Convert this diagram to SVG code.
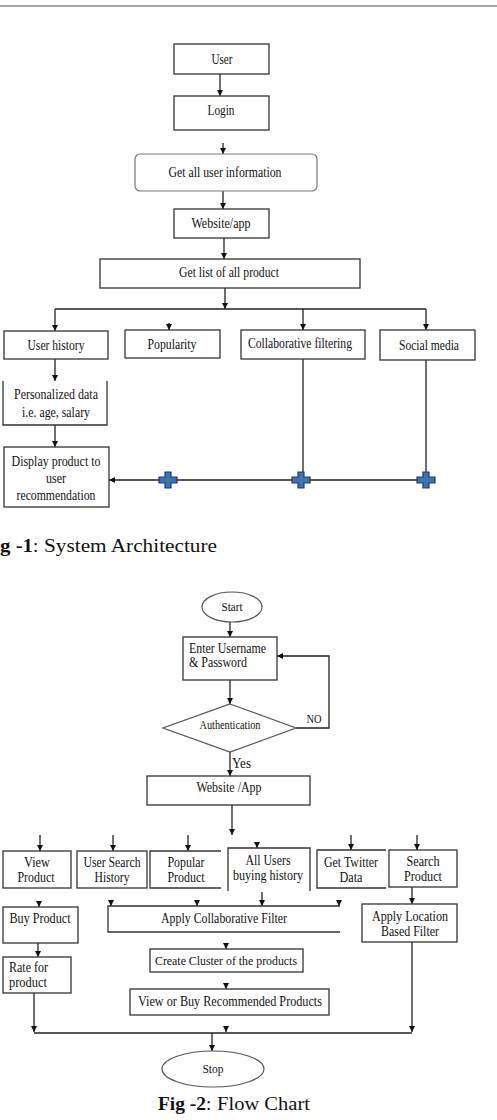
<svg xmlns="http://www.w3.org/2000/svg" width="497" height="1120" viewBox="0 0 497 1120">
<style>
.bx{fill:#fff;stroke:#333;stroke-width:1.3}
.op{fill:none;stroke:#333;stroke-width:1.3}
.t{font-family:"Liberation Serif","Times New Roman",serif;font-size:15px;fill:#111;text-anchor:middle}
.s{font-size:13px}
.l{text-anchor:start}
.ln{fill:none;stroke:#222;stroke-width:1.3}
.ar{marker-end:url(#ah)}
.pl{fill:#3f72b3;stroke:#1d3c66;stroke-width:1.2}
.cap{font-family:"Liberation Serif","Cambria",serif;font-size:19px;fill:#111}
</style>
<defs>
<marker id="ah" viewBox="0 0 10 10" refX="10" refY="5" markerWidth="6" markerHeight="6" markerUnits="userSpaceOnUse" orient="auto">
<path d="M0,0 L10,5 L0,10 z" fill="#111"/>
</marker>
<path id="plus" d="M-3,-8 H3 V-3 H9 V3 H3 V8 H-3 V3 H-9 V-3 H-3 z"/>
</defs>
<rect width="497" height="1120" fill="#fff"/>
<line x1="0" y1="6" x2="497" y2="6" stroke="#888" stroke-width="1.5"/>

<g id="connectors">
<line class="ln ar" x1="220" y1="74" x2="220" y2="96"/>
<line class="ln ar" x1="223" y1="143" x2="223" y2="154"/>
<line class="ln ar" x1="223" y1="191" x2="223" y2="209"/>
<line class="ln ar" x1="224" y1="238" x2="224" y2="259"/>
<line class="ln ar" x1="225" y1="288" x2="225" y2="309"/>
<line class="ln" x1="55" y1="309" x2="426" y2="309"/>
<line class="ln ar" x1="55" y1="309" x2="55" y2="331"/>
<line class="ln ar" x1="303" y1="309" x2="303" y2="330"/>
<line class="ln ar" x1="426" y1="309" x2="426" y2="330"/>
<line class="ln ar" x1="169" y1="323" x2="169" y2="330"/>
<line class="ln ar" x1="55" y1="359" x2="55" y2="381"/>
<line class="ln ar" x1="55" y1="425" x2="55" y2="447"/>
<line class="ln" x1="303" y1="359" x2="303" y2="480"/>
<line class="ln" x1="426" y1="360" x2="426" y2="480"/>
<line class="ln ar" x1="426" y1="480" x2="109" y2="480"/>
<use href="#plus" class="pl" x="168" y="480"/>
<use href="#plus" class="pl" x="301" y="480"/>
<use href="#plus" class="pl" x="426" y="480"/>

<line class="ln ar" x1="230" y1="622" x2="230" y2="637"/>
<line class="ln ar" x1="230" y1="680" x2="230" y2="704"/>
<polyline class="ln ar" points="296,728 329,728 329,656 277,656"/>
<line class="ln ar" x1="230" y1="752" x2="230" y2="776"/>
<line class="ln ar" x1="232" y1="805" x2="232" y2="835"/>
<line class="ln ar" x1="40" y1="835" x2="40" y2="851"/>
<line class="ln ar" x1="113" y1="835" x2="113" y2="851"/>
<line class="ln ar" x1="188" y1="835" x2="188" y2="851"/>
<line class="ln ar" x1="351" y1="835" x2="351" y2="850"/>
<line class="ln ar" x1="417" y1="835" x2="417" y2="850"/>
<line class="ln ar" x1="257" y1="842" x2="257" y2="848"/>
<line class="ln ar" x1="39" y1="901" x2="39" y2="907"/>
<line class="ln ar" x1="111" y1="900" x2="111" y2="906"/>
<line class="ln ar" x1="197" y1="900" x2="197" y2="906"/>
<line class="ln ar" x1="339" y1="900" x2="339" y2="906"/>
<line class="ln ar" x1="262" y1="892" x2="262" y2="906"/>
<line class="ln ar" x1="412" y1="887" x2="412" y2="904"/>
<line class="ln ar" x1="38" y1="943" x2="38" y2="957"/>
<line class="ln ar" x1="226" y1="943" x2="226" y2="949"/>
<line class="ln ar" x1="226" y1="983" x2="226" y2="989"/>
<line class="ln ar" x1="34" y1="993" x2="34" y2="1032"/>
<line class="ln ar" x1="412" y1="942" x2="412" y2="1032"/>
<line class="ln" x1="34" y1="1033" x2="412" y2="1033"/>
<line class="ln ar" x1="226" y1="1026" x2="226" y2="1032"/>
<line class="ln ar" x1="212" y1="1033" x2="212" y2="1051"/>
</g>

<g id="n-user"><rect class="bx" x="174" y="44" width="95" height="30"/><text class="t" x="222" y="64" textLength="21" lengthAdjust="spacingAndGlyphs">User</text></g>
<g id="n-login"><rect class="bx" x="174" y="96" width="95" height="34"/><text class="t" x="221" y="115" textLength="27" lengthAdjust="spacingAndGlyphs">Login</text></g>
<g id="n-getinfo"><rect x="135" y="154" width="182" height="37" rx="5" fill="#fff" stroke="#777" stroke-width="1.2"/><text class="t" x="225" y="177" textLength="113" lengthAdjust="spacingAndGlyphs">Get all user information</text></g>
<g id="n-website"><rect class="bx" x="174" y="209" width="95" height="29"/><text class="t" x="221" y="228" textLength="59" lengthAdjust="spacingAndGlyphs">Website/app</text></g>
<g id="n-getlist"><rect class="bx" x="100" y="259" width="260" height="29"/><text class="t" x="229" y="277" textLength="100" lengthAdjust="spacingAndGlyphs">Get list of all product</text></g>
<g id="n-userhistory"><rect class="bx" x="4" y="331" width="104" height="28"/><text class="t" x="56" y="350" textLength="57" lengthAdjust="spacingAndGlyphs">User history</text></g>
<g id="n-popularity"><rect class="bx" x="125" y="330" width="95" height="28"/><text class="t" x="172" y="349" textLength="49" lengthAdjust="spacingAndGlyphs">Popularity</text></g>
<g id="n-collab"><rect class="bx" x="241" y="330" width="124" height="29"/><text class="t" x="300" y="348" textLength="104" lengthAdjust="spacingAndGlyphs">Collaborative filtering</text></g>
<g id="n-social"><rect class="bx" x="380" y="330" width="95" height="30"/><text class="t" x="429" y="350" textLength="60" lengthAdjust="spacingAndGlyphs">Social media</text></g>
<g id="n-personal"><path class="op" d="M3,381 V425 H107 V381"/><text class="t" x="56" y="399" textLength="84" lengthAdjust="spacingAndGlyphs">Personalized data</text><text class="t" x="56" y="417" textLength="68" lengthAdjust="spacingAndGlyphs">i.e. age, salary</text></g>
<g id="n-display"><rect class="bx" x="4" y="447" width="105" height="60"/><text class="t" x="56" y="466" textLength="89" lengthAdjust="spacingAndGlyphs">Display product to</text><text class="t" x="56" y="483" textLength="20" lengthAdjust="spacingAndGlyphs">user</text><text class="t" x="56" y="500" textLength="79" lengthAdjust="spacingAndGlyphs">recommendation</text></g>

<g id="cap1"><text class="cap" x="0" y="552"><tspan font-weight="bold" textLength="33" lengthAdjust="spacingAndGlyphs">g -1</tspan><tspan>: </tspan><tspan x="44" textLength="173" lengthAdjust="spacingAndGlyphs">System Architecture</tspan></text></g>

<g id="n-start"><ellipse cx="232" cy="607" rx="30" ry="15" fill="#fff" stroke="#555" stroke-width="1.2"/><text class="t s" x="232" y="611" textLength="21" lengthAdjust="spacingAndGlyphs">Start</text></g>
<g id="n-enter"><rect class="bx" x="183" y="637" width="94" height="43"/><text class="t l" x="189" y="653" textLength="77" lengthAdjust="spacingAndGlyphs">Enter Username</text><text class="t l" x="189" y="667" textLength="58" lengthAdjust="spacingAndGlyphs">&amp; Password</text></g>
<g id="n-auth"><polygon points="230,704 296,728 230,752 163,728" fill="#fff" stroke="#555" stroke-width="1.2"/><text class="t s" x="230" y="729" textLength="61" lengthAdjust="spacingAndGlyphs">Authentication</text></g>
<g id="lbl-no"><text class="t s" x="314" y="723" textLength="15" lengthAdjust="spacingAndGlyphs">NO</text></g>
<g id="lbl-yes"><text class="t l" x="232" y="768" textLength="19" lengthAdjust="spacingAndGlyphs">Yes</text></g>
<g id="n-website2"><rect class="bx" x="147" y="776" width="163" height="29"/><text class="t" x="229" y="792" textLength="65" lengthAdjust="spacingAndGlyphs">Website /App</text></g>
<g id="n-view"><rect class="bx" x="3" y="851" width="68" height="37"/><text class="t" x="37" y="867" textLength="26" lengthAdjust="spacingAndGlyphs">View</text><text class="t" x="36" y="882" textLength="37" lengthAdjust="spacingAndGlyphs">Product</text></g>
<g id="n-usersearch"><rect class="bx" x="77" y="851" width="70" height="37"/><text class="t" x="112" y="867" textLength="57" lengthAdjust="spacingAndGlyphs">User Search</text><text class="t" x="112" y="882" textLength="35" lengthAdjust="spacingAndGlyphs">History</text></g>
<g id="n-popular"><path class="op" d="M221,851 H150 V888 H221"/><text class="t" x="186" y="867" textLength="37" lengthAdjust="spacingAndGlyphs">Popular</text><text class="t" x="186" y="882" textLength="37" lengthAdjust="spacingAndGlyphs">Product</text></g>
<g id="n-allusers"><path class="op" d="M228,891 V848 H310 V891"/><text class="t" x="268" y="865" textLength="45" lengthAdjust="spacingAndGlyphs">All Users</text><text class="t" x="268" y="880" textLength="70" lengthAdjust="spacingAndGlyphs">buying history</text></g>
<g id="n-twitter"><path class="op" d="M386,850 H317 V888 H386"/><text class="t" x="351" y="867" textLength="54" lengthAdjust="spacingAndGlyphs">Get Twitter</text><text class="t" x="351" y="882" textLength="23" lengthAdjust="spacingAndGlyphs">Data</text></g>
<g id="n-search"><rect class="bx" x="389" y="850" width="68" height="37"/><text class="t" x="423" y="866" textLength="33" lengthAdjust="spacingAndGlyphs">Search</text><text class="t" x="423" y="881" textLength="38" lengthAdjust="spacingAndGlyphs">Product</text></g>
<g id="n-buy"><rect class="bx" x="3" y="907" width="75" height="36"/><text class="t" x="40" y="923" textLength="61" lengthAdjust="spacingAndGlyphs">Buy Product</text></g>
<g id="n-applycf"><path class="op" d="M340,906 H108 V932 H340"/><text class="t" x="224" y="923" textLength="126" lengthAdjust="spacingAndGlyphs">Apply Collaborative Filter</text></g>
<g id="n-applyloc"><rect class="bx" x="362" y="904" width="95" height="38"/><text class="t" x="410" y="921" textLength="76" lengthAdjust="spacingAndGlyphs">Apply Location</text><text class="t" x="410" y="936" textLength="58" lengthAdjust="spacingAndGlyphs">Based Filter</text></g>
<g id="n-rate"><rect class="bx" x="3" y="957" width="68" height="36"/><text class="t l" x="9" y="972" textLength="39" lengthAdjust="spacingAndGlyphs">Rate for</text><text class="t l" x="9" y="987" textLength="38" lengthAdjust="spacingAndGlyphs">product</text></g>
<g id="n-cluster"><rect class="bx" x="150" y="949" width="153" height="23"/><text class="t s" x="226" y="965" textLength="142" lengthAdjust="spacingAndGlyphs">Create Cluster of the products</text></g>
<g id="n-viewbuy"><rect class="bx" x="130" y="989" width="199" height="26"/><text class="t" x="230" y="1006" textLength="184" lengthAdjust="spacingAndGlyphs">View or Buy Recommended Products</text></g>
<g id="n-stop"><ellipse cx="213" cy="1069" rx="51" ry="18" fill="#fff" stroke="#555" stroke-width="1.2"/><text class="t s" x="213" y="1073" textLength="21" lengthAdjust="spacingAndGlyphs">Stop</text></g>

<g id="cap2"><text class="cap" x="158" y="1110"><tspan font-weight="bold" textLength="48" lengthAdjust="spacingAndGlyphs">Fig -2</tspan><tspan>: </tspan><tspan x="217" textLength="93" lengthAdjust="spacingAndGlyphs">Flow Chart</tspan></text></g>
</svg>
